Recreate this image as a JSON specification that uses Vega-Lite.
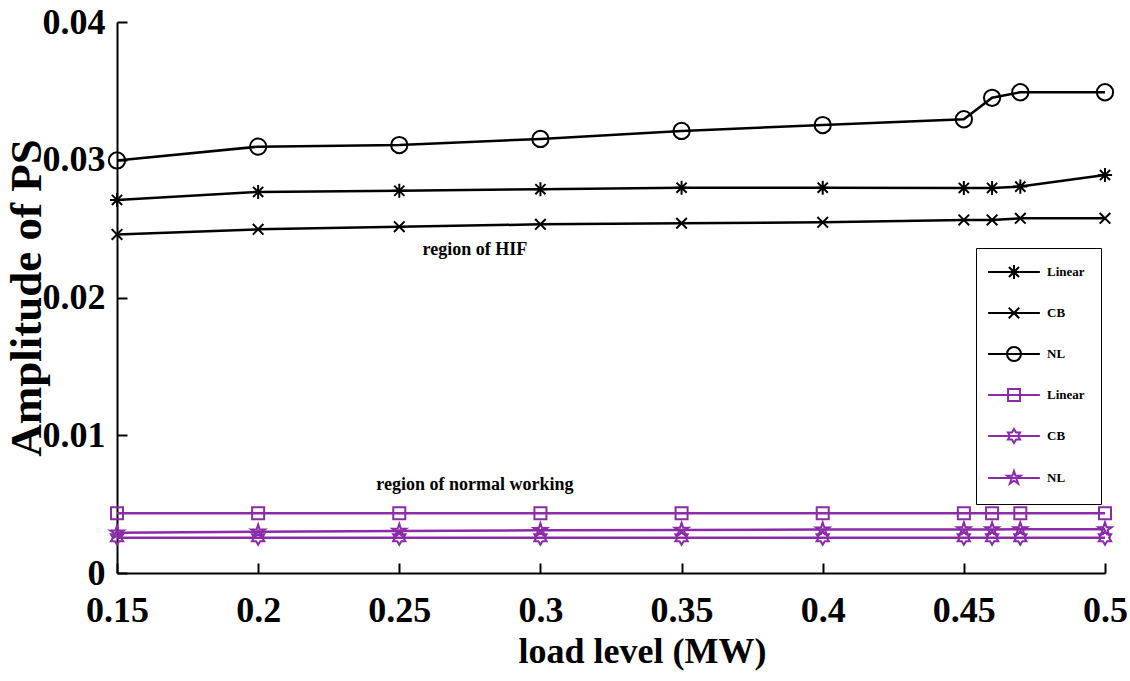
{
  "$schema": "https://vega.github.io/schema/vega-lite/v6.json",
  "width": 988,
  "height": 551,
  "autosize": {"type": "none"},
  "padding": {"left": 117, "top": 22, "right": 25, "bottom": 108},
  "background": "white",
  "config": {
    "view": {"stroke": null},
    "axis": {
      "domainColor": "black", "domainWidth": 2,
      "tickColor": "black", "tickWidth": 2, "tickSize": -10,
      "grid": false, "labelFlush": false, "labelOverlap": false,
      "labelFont": "Liberation Serif", "labelFontWeight": "bold", "labelFontSize": 36, "labelColor": "black",
      "titleFont": "Liberation Serif", "titleFontWeight": "bold", "titleColor": "black"
    },
    "legend": {
      "title": null, "orient": "none", "legendX": 859, "legendY": 226,
      "strokeColor": "black", "fillColor": "white", "padding": 16,
      "rowPadding": 20, "symbolSize": 196, "symbolOffset": 14, "labelOffset": 25,
      "symbolStrokeWidth": 2, "symbolOpacity": 1,
      "labelFont": "Liberation Serif", "labelFontWeight": "bold", "labelFontSize": 13, "labelColor": "black"
    }
  },
  "datasets": {
    "series": [
      {"x": 0.15, "y": 0.02708, "s": "HIF Linear"},
      {"x": 0.2, "y": 0.02766, "s": "HIF Linear"},
      {"x": 0.25, "y": 0.02775, "s": "HIF Linear"},
      {"x": 0.3, "y": 0.02786, "s": "HIF Linear"},
      {"x": 0.35, "y": 0.02797, "s": "HIF Linear"},
      {"x": 0.4, "y": 0.02797, "s": "HIF Linear"},
      {"x": 0.45, "y": 0.02795, "s": "HIF Linear"},
      {"x": 0.46, "y": 0.02795, "s": "HIF Linear"},
      {"x": 0.47, "y": 0.02805, "s": "HIF Linear"},
      {"x": 0.5, "y": 0.02889, "s": "HIF Linear"},
      {"x": 0.15, "y": 0.02458, "s": "HIF CB"},
      {"x": 0.2, "y": 0.02495, "s": "HIF CB"},
      {"x": 0.25, "y": 0.02514, "s": "HIF CB"},
      {"x": 0.3, "y": 0.02531, "s": "HIF CB"},
      {"x": 0.35, "y": 0.02539, "s": "HIF CB"},
      {"x": 0.4, "y": 0.02546, "s": "HIF CB"},
      {"x": 0.45, "y": 0.02563, "s": "HIF CB"},
      {"x": 0.46, "y": 0.02563, "s": "HIF CB"},
      {"x": 0.47, "y": 0.02575, "s": "HIF CB"},
      {"x": 0.5, "y": 0.02575, "s": "HIF CB"},
      {"x": 0.15, "y": 0.02995, "s": "HIF NL"},
      {"x": 0.2, "y": 0.03095, "s": "HIF NL"},
      {"x": 0.25, "y": 0.03107, "s": "HIF NL"},
      {"x": 0.3, "y": 0.03151, "s": "HIF NL"},
      {"x": 0.35, "y": 0.03209, "s": "HIF NL"},
      {"x": 0.4, "y": 0.03252, "s": "HIF NL"},
      {"x": 0.45, "y": 0.03294, "s": "HIF NL"},
      {"x": 0.46, "y": 0.0345, "s": "HIF NL"},
      {"x": 0.47, "y": 0.0349, "s": "HIF NL"},
      {"x": 0.5, "y": 0.0349, "s": "HIF NL"},
      {"x": 0.15, "y": 0.00433, "s": "Normal Linear"},
      {"x": 0.2, "y": 0.00433, "s": "Normal Linear"},
      {"x": 0.25, "y": 0.00433, "s": "Normal Linear"},
      {"x": 0.3, "y": 0.00433, "s": "Normal Linear"},
      {"x": 0.35, "y": 0.00433, "s": "Normal Linear"},
      {"x": 0.4, "y": 0.00433, "s": "Normal Linear"},
      {"x": 0.45, "y": 0.00433, "s": "Normal Linear"},
      {"x": 0.46, "y": 0.00433, "s": "Normal Linear"},
      {"x": 0.47, "y": 0.00433, "s": "Normal Linear"},
      {"x": 0.5, "y": 0.00433, "s": "Normal Linear"},
      {"x": 0.15, "y": 0.00256, "s": "Normal CB"},
      {"x": 0.2, "y": 0.00256, "s": "Normal CB"},
      {"x": 0.25, "y": 0.00256, "s": "Normal CB"},
      {"x": 0.3, "y": 0.00256, "s": "Normal CB"},
      {"x": 0.35, "y": 0.00256, "s": "Normal CB"},
      {"x": 0.4, "y": 0.00256, "s": "Normal CB"},
      {"x": 0.45, "y": 0.00256, "s": "Normal CB"},
      {"x": 0.46, "y": 0.00256, "s": "Normal CB"},
      {"x": 0.47, "y": 0.00256, "s": "Normal CB"},
      {"x": 0.5, "y": 0.00256, "s": "Normal CB"},
      {"x": 0.15, "y": 0.00293, "s": "Normal NL"},
      {"x": 0.2, "y": 0.003, "s": "Normal NL"},
      {"x": 0.25, "y": 0.00305, "s": "Normal NL"},
      {"x": 0.3, "y": 0.0031, "s": "Normal NL"},
      {"x": 0.35, "y": 0.00313, "s": "Normal NL"},
      {"x": 0.4, "y": 0.00315, "s": "Normal NL"},
      {"x": 0.45, "y": 0.00316, "s": "Normal NL"},
      {"x": 0.46, "y": 0.00316, "s": "Normal NL"},
      {"x": 0.47, "y": 0.00317, "s": "Normal NL"},
      {"x": 0.5, "y": 0.00317, "s": "Normal NL"}
    ],
    "notes": [
      {"x": 0.2768, "y": 0.02309, "label": "region of HIF"},
      {"x": 0.2768, "y": 0.006025, "label": "region of normal working"}
    ]
  },
  "layer": [
    {
      "data": {"name": "series"},
      "mark": {"type": "line", "strokeWidth": 2.5},
      "encoding": {
        "x": {"field": "x", "type": "quantitative",
          "scale": {"domain": [0.15, 0.5], "nice": false, "zero": false},
          "axis": {"values": [0.15, 0.2, 0.25, 0.3, 0.35, 0.4, 0.45, 0.5], "format": ".2~f",
            "title": "load level (MW)", "titleFontSize": 36, "labelPadding": 30, "titlePadding": 6,
            "titleX": 525, "titleAnchor": "middle"}},
        "y": {"field": "y", "type": "quantitative",
          "scale": {"domain": [0, 0.04], "nice": false},
          "axis": {"values": [0, 0.01, 0.02, 0.03, 0.04], "format": ".2~f",
            "title": "Amplitude of PS", "titleFontSize": 45, "labelPadding": 22, "titlePadding": -7}},
        "color": {"field": "s", "type": "nominal",
          "scale": {"domain": ["HIF Linear", "HIF CB", "HIF NL", "Normal Linear", "Normal CB", "Normal NL"],
            "range": ["#000000", "#000000", "#000000", "#8B2BA8", "#8B2BA8", "#8B2BA8"]}},
        "detail": {"field": "s"}
      }
    },
    {
      "data": {"name": "series"},
      "mark": {"type": "point", "filled": false, "strokeWidth": 2, "size": 200, "opacity": 1},
      "encoding": {
        "x": {"field": "x", "type": "quantitative"},
        "y": {"field": "y", "type": "quantitative"},
        "color": {"field": "s", "type": "nominal",
          "legend": {
            "labelExpr": "split(datum.label, ' ')[1]",
            "symbolType": {"expr": "datum.value == 'HIF Linear' ? 'M-3.7,0H3.7M-1,0H1M0,-1V1M-0.72,-0.72L0.72,0.72M-0.72,0.72L0.72,-0.72' : datum.value == 'HIF CB' ? 'M-3.7,0H3.7M-0.75,-0.75L0.75,0.75M-0.75,0.75L0.75,-0.75' : datum.value == 'HIF NL' ? 'M-3.7,0H3.7M1,0A1,1,0,1,1,-1,0A1,1,0,1,1,1,0Z' : datum.value == 'Normal Linear' ? 'M-3.7,0H3.7M-0.85,-0.85H0.85V0.85H-0.85Z' : datum.value == 'Normal CB' ? 'M-3.7,0H3.7M0,-1L0.289,-0.5L0.866,-0.5L0.577,0L0.866,0.5L0.289,0.5L0,1L-0.289,0.5L-0.866,0.5L-0.577,0L-0.866,-0.5L-0.289,-0.5Z' : 'M-3.7,0H3.7M0,-1L0.225,-0.309L0.951,-0.309L0.363,0.118L0.588,0.809L0,0.382L-0.588,0.809L-0.363,0.118L-0.951,-0.309L-0.225,-0.309Z'"}
          }},
        "shape": {"field": "s", "type": "nominal",
          "scale": {
            "range": [
              "M-0.75,-0.75L0.75,0.75M-0.75,0.75L0.75,-0.75",
              "M-1,0H1M0,-1V1M-0.72,-0.72L0.72,0.72M-0.72,0.72L0.72,-0.72",
              "M1.15,0A1.15,1.15,0,1,1,-1.15,0A1.15,1.15,0,1,1,1.15,0Z",
              "M0,-1L0.289,-0.5L0.866,-0.5L0.577,0L0.866,0.5L0.289,0.5L0,1L-0.289,0.5L-0.866,0.5L-0.577,0L-0.866,-0.5L-0.289,-0.5Z",
              "M-0.85,-0.85H0.85V0.85H-0.85Z",
              "M0,-1L0.225,-0.309L0.951,-0.309L0.363,0.118L0.588,0.809L0,0.382L-0.588,0.809L-0.363,0.118L-0.951,-0.309L-0.225,-0.309Z"
            ]},
          "legend": null}
      }
    },
    {
      "data": {"name": "notes"},
      "mark": {"type": "text", "font": "Liberation Serif", "fontWeight": "bold", "fontSize": 18, "align": "center", "baseline": "alphabetic", "color": "black"},
      "encoding": {
        "x": {"field": "x", "type": "quantitative"},
        "y": {"field": "y", "type": "quantitative"},
        "text": {"field": "label"}
      }
    }
  ]
}
